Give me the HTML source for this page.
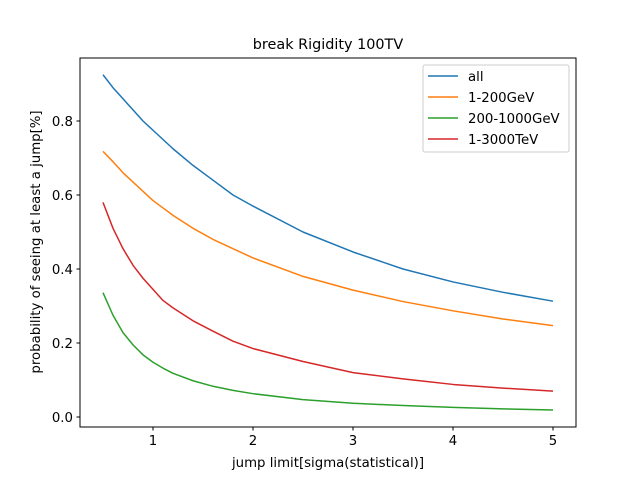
<!DOCTYPE html>
<html><head><meta charset="utf-8"><style>
body{margin:0;background:#fff}
svg text{font-family:"DejaVu Sans","Liberation Sans",sans-serif;fill:#000}
</style></head><body>
<svg id="chart" width="640" height="480" xmlns="http://www.w3.org/2000/svg">
<rect width="640" height="480" fill="#fff"/>
<text x="328" y="49" font-size="14.4" text-anchor="middle">break Rigidity 100TV</text>
<g id="plot"></g>
<rect x="80" y="58" width="496" height="369" fill="none" stroke="#000" stroke-width="1"/>
<text x="328" y="467" font-size="13.3" text-anchor="middle">jump limit[sigma(statistical)]</text>
<text transform="translate(40,242) rotate(-90)" font-size="13.3" text-anchor="middle">probability of seeing at least a jump[%]</text>
<g id="legend">
<rect x="423" y="65" width="146" height="87" rx="2" fill="#fff" stroke="#ccc" stroke-width="1"/>
</g>
</svg>
<script>
const xs=[0.5,0.6,0.7,0.8,0.9,1.0,1.1,1.2,1.4,1.6,1.8,2.0,2.5,3.0,3.5,4.0,4.5,5.0];
const allVals=[0.925,0.89,0.86,0.83,0.80,0.775,0.75,0.725,0.68,0.64,0.60,0.57,0.50,0.446,0.40,0.365,0.337,0.313];
const lowVals=[0.718,0.69,0.66,0.635,0.61,0.585,0.565,0.545,0.51,0.48,0.455,0.43,0.38,0.343,0.312,0.287,0.265,0.247];
const midVals=[0.336,0.275,0.228,0.195,0.168,0.148,0.132,0.118,0.098,0.083,0.072,0.063,0.047,0.037,0.031,0.026,0.022,0.019];
const highVals=[0.58,0.51,0.455,0.41,0.375,0.345,0.315,0.295,0.26,0.232,0.205,0.185,0.15,0.12,0.103,0.088,0.078,0.07];
const seriesNames=["all","1-200GeV","200-1000GeV","1-3000TeV"];
const colors=["#1f77b4","#ff7f0e","#2ca02c","#d62728"];
const xTicks=[1,2,3,4,5];
const yTicks=[0.0,0.2,0.4,0.6,0.8];
const NS="http://www.w3.org/2000/svg";
const X=v=>153+(v-1)*100;
const Y=v=>417-v*370;
const plot=document.getElementById('plot');
function mk(t,a,p){const e=document.createElementNS(NS,t);for(const k in a)e.setAttribute(k,a[k]);(p||plot).appendChild(e);return e;}
xTicks.forEach(t=>{
 const l=mk('line',{x1:X(t),x2:X(t),y1:427,y2:430.5,stroke:'#000'});
 
 
 const tx=mk('text',{x:X(t),y:445,'font-size':13.3,'text-anchor':'middle'});tx.textContent=t;
 
 
});
yTicks.forEach(t=>{
 const l=mk('line',{x1:76.5,x2:80,y1:Y(t),y2:Y(t),stroke:'#000'});
 
 
 const tx=mk('text',{x:73,y:Y(t)+5,'font-size':13.3,'text-anchor':'end'});tx.textContent=t.toFixed(1);
 
 
});
[allVals,lowVals,midVals,highVals].forEach((vals,i)=>{
 const p=mk('polyline',{points:xs.map((x,j)=>X(x)+','+Y(vals[j])).join(' '),fill:'none',stroke:colors[i],'stroke-width':1.5,'stroke-linejoin':'round'});
 
 
});
const lg=document.getElementById('legend');
seriesNames.forEach((n,i)=>{
 const y=76+i*21;
 const l=mk('line',{x1:428,x2:458,y1:y,y2:y,stroke:colors[i],'stroke-width':1.5},lg);
 
 
 const t=mk('text',{x:468,y:y+5,'font-size':13.3},lg);t.textContent=n;
 
 
});
</script>
</body></html>
